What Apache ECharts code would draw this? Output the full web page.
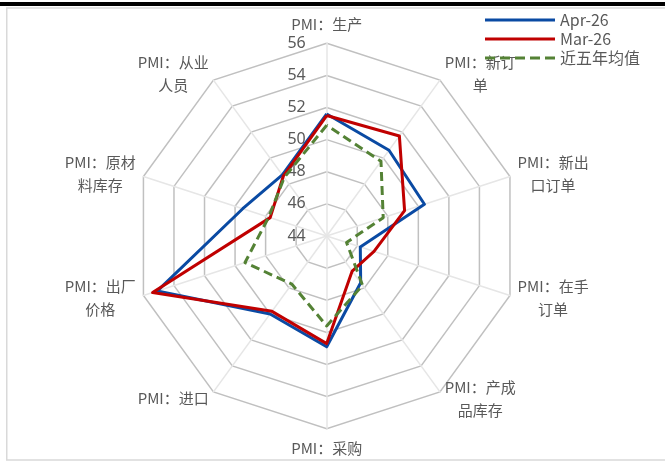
<!DOCTYPE html>
<html>
<head>
<meta charset="utf-8">
<script src="https://cdn.jsdelivr.net/npm/echarts@6.0.0/dist/echarts.min.js"></script>
<style>
html,body{margin:0;padding:0;background:#fff;}
#chart{width:665px;height:461px;}
</style>
</head>
<body>
<div id="chart"></div>
<script>
// Categories in clockwise order starting from the top
var categories = ['PMI：生产', 'PMI：新订\n单', 'PMI：新出\n口订单', 'PMI：在手\n订单', 'PMI：产成\n品库存',
                  'PMI：采购', 'PMI：进口', 'PMI：出厂\n价格', 'PMI：原材\n料库存', 'PMI：从业\n人员'];
var seriesNames = ['Apr-26', 'Mar-26', '近五年均值'];
var apr26 = [51.6, 50.6, 50.4, 46.2, 47.6, 50.9, 50.0, 55.1, 49.5, 48.7];
var mar26 = [51.5, 51.7, 49.1, 47.1, 46.7, 50.7, 49.8, 55.4, 47.7, 48.6];
var avg5y = [50.9, 49.75, 47.7, 45.3, 47.8, 49.6, 47.7, 49.35, 47.8, 48.5];
var axisMin = 44, axisMax = 56, axisSplits = 6;

var colors = ['#0a4aa3', '#c00000', '#548235'];
var FONT_CJK = '"Noto Sans CJK SC", "Noto Sans", sans-serif';
var FONT_LAT = '"Noto Sans", "DejaVu Sans", sans-serif';

// ECharts radar places indicators counter-clockwise; reorder to get a clockwise layout
var order = [0, 9, 8, 7, 6, 5, 4, 3, 2, 1];
function reorder(arr) { return order.map(function (i) { return arr[i]; }); }

var indicators = order.map(function (i, k) {
  var ind = { name: categories[i], min: axisMin, max: axisMax };
  if (k === 0) {
    ind.axisLabel = { show: true };
  }
  return ind;
});

var dashPath = 'path://M0,0H10V3H0Z M15,0H25V3H15Z M30,0H40V3H30Z M45,0H55V3H45Z M60,0H70V3H60Z';

var chart = echarts.init(document.getElementById('chart'), null, { renderer: 'canvas' });
chart.setOption({
  animation: false,
  backgroundColor: '#ffffff',
  graphic: [
    { type: 'rect', shape: { x: 0, y: 2, width: 665, height: 4 }, style: { fill: '#000000' }, silent: true },
    { type: 'rect', shape: { x: 6.75, y: 8, width: 700, height: 452 }, style: { fill: 'none', stroke: '#d9d9d9', lineWidth: 1.5 }, silent: true }
  ],
  legend: {
    orient: 'vertical',
    left: 480,
    top: 7,
    itemWidth: 70,
    itemHeight: 3,
    itemGap: 3,
    textStyle: { fontSize: 16, color: '#595959', fontFamily: FONT_CJK },
    data: [
      { name: seriesNames[0], icon: 'rect', itemStyle: { color: colors[0], borderWidth: 0 } },
      { name: seriesNames[1], icon: 'rect', itemStyle: { color: colors[1], borderWidth: 0 } },
      { name: seriesNames[2], icon: dashPath, itemStyle: { color: colors[2], borderWidth: 0 } }
    ]
  },
  radar: {
    center: [326.7, 236],
    radius: 192.7,
    startAngle: 90,
    shape: 'polygon',
    splitNumber: axisSplits,
    nameGap: 8,
    indicator: indicators,
    axisName: {
      color: '#595959',
      fontSize: 15,
      fontFamily: FONT_CJK,
      formatter: function (name) {
        return name.split('\n').map(function (l) { return '{c|' + l + '}'; }).join('\n');
      },
      rich: {
        c: { align: 'center', fontSize: 15, lineHeight: 23, color: '#595959', fontFamily: FONT_CJK }
      }
    },
    splitLine: { lineStyle: { color: '#c0c0c0', width: 1.5 } },
    splitArea: { show: false },
    axisLine: { lineStyle: { color: '#e6e6e6', width: 1.5 } },
    axisTick: { show: false },
    axisLabel: { show: false, color: '#595959', fontSize: 16, fontFamily: FONT_LAT, margin: 21 }
  },
  series: [{
    type: 'radar',
    symbol: 'none',
    data: [
      { name: seriesNames[0], value: reorder(apr26), itemStyle: { color: colors[0] }, lineStyle: { color: colors[0], width: 3 } },
      { name: seriesNames[1], value: reorder(mar26), itemStyle: { color: colors[1] }, lineStyle: { color: colors[1], width: 3 } },
      { name: seriesNames[2], value: reorder(avg5y), itemStyle: { color: colors[2] }, lineStyle: { color: colors[2], width: 3, type: [9, 5] } }
    ]
  }]
});
</script>
</body>
</html>
